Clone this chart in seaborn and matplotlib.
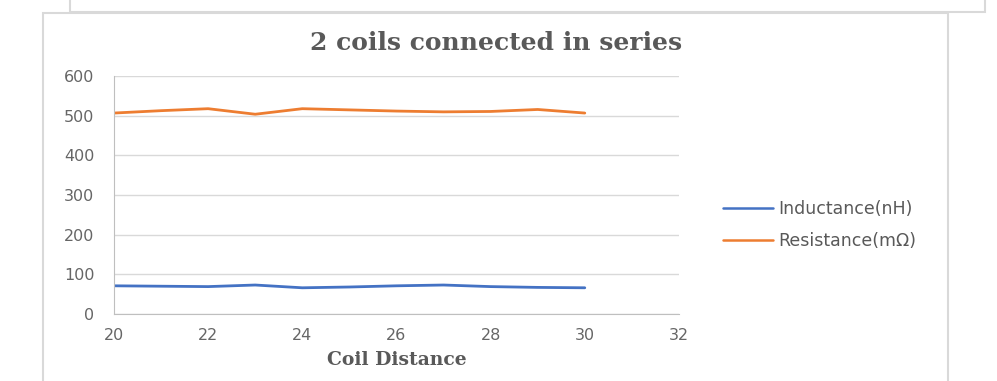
import matplotlib
matplotlib.use("Agg")
import matplotlib.pyplot as plt
import seaborn as sns
import pandas as pd
from matplotlib.patches import Rectangle

# Values
distance = [20, 21, 22, 23, 24, 25, 26, 27, 28, 29, 30]
inductance = [71, 70, 69, 73, 66, 68, 71, 73, 69, 67, 66]
resistance = [507, 513, 518, 504, 518, 515, 512, 510, 511, 516, 507]
series_names = ["Inductance(nH)", "Resistance(m\u03a9)"]
y_ticks = [0, 100, 200, 300, 400, 500, 600]
x_ticks = [20, 22, 24, 26, 28, 30, 32]

df = pd.DataFrame({
    "Coil Distance": distance * 2,
    "value": inductance + resistance,
    "series": [series_names[0]] * len(distance) + [series_names[1]] * len(distance),
})

sns.set_style("white")
plt.rcParams["font.family"] = ["DejaVu Sans"]

fig = plt.figure(figsize=(9.97, 3.81), dpi=100)
ax = fig.add_axes([0.1143, 0.176, 0.5667, 0.624])

sns.lineplot(data=df, x="Coil Distance", y="value", hue="series",
             palette=["#4472C4", "#ED7D31"], linewidth=2, ax=ax)

ax.set_xlim(20, 32)
ax.set_ylim(0, 600)
ax.set_xticks(x_ticks)
ax.set_yticks(y_ticks)
ax.grid(axis="y", color="#d9d9d9", linewidth=1)
ax.tick_params(length=0, labelsize=11.5, labelcolor="#666666")
ax.tick_params(axis="y", pad=14)
ax.tick_params(axis="x", pad=10)
for s in ["top", "right"]:
    ax.spines[s].set_visible(False)
for s in ["left", "bottom"]:
    ax.spines[s].set_color("#bfbfbf")

ax.set_ylabel("")
ax.set_xlabel("Coil Distance", family="DejaVu Serif", fontweight="bold",
              fontsize=13.5, color="#595959", labelpad=6)
fig.text(496 / 997, 1 - 50 / 381, "2 coils connected in series",
         family="DejaVu Serif", fontweight="bold", fontsize=18,
         color="#595959", ha="center", va="baseline")

leg = ax.legend(loc="center left", bbox_to_anchor=(723 / 997, 1 - 225 / 381),
                bbox_transform=fig.transFigure, frameon=False, borderpad=0,
                borderaxespad=0, fontsize=12.5, handlelength=2.9,
                handletextpad=0.3, labelspacing=0.85)
for t in leg.get_texts():
    t.set_color("#595959")
for line in leg.get_lines():
    line.set_linewidth(1.8)

# surrounding frames from the source document
fig.add_artist(Rectangle((43 / 997, -0.1), 905 / 997, 1 - 13 / 381 + 0.1,
                         transform=fig.transFigure, fill=False,
                         edgecolor="#d9d9d9", linewidth=1.5))
fig.add_artist(Rectangle((70 / 997, 1 - 12 / 381), 915 / 997, 0.2,
                         transform=fig.transFigure, fill=False,
                         edgecolor="#d9d9d9", linewidth=1.5))

fig.savefig("out.png", dpi=100)
